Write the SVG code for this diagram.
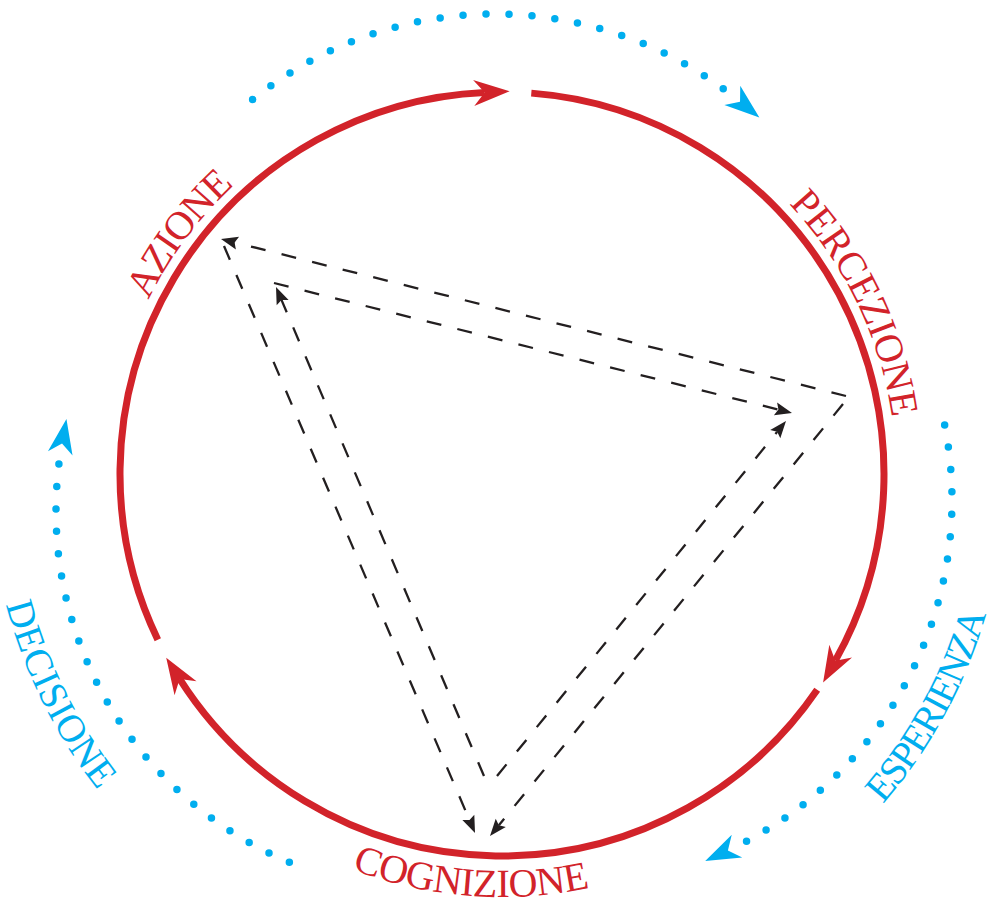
<svg xmlns="http://www.w3.org/2000/svg" width="1000" height="906" viewBox="0 0 1000 906">
<style>
.red{fill:none;stroke:#d2232a;stroke-width:7;stroke-linecap:butt}
.dots{fill:none;stroke:#00aeef;stroke-width:7.5;stroke-linecap:round}
.dash{fill:none;stroke:#231f20;stroke-width:2.3;stroke-dasharray:15 16.5}
.lbl{font-family:"Liberation Serif","Times New Roman",serif;font-size:40px}
.lr{fill:#d2232a}
.lb{fill:#00aeef;font-size:39px}
</style>
<defs>
<marker id="mr" markerUnits="userSpaceOnUse" orient="auto" refX="0" refY="0" markerWidth="40" markerHeight="30" overflow="visible">
<path d="M0,0 L-11,-13 L25,0 L-11,13 Z" fill="#d2232a"/>
</marker>
<marker id="mb" markerUnits="userSpaceOnUse" orient="auto" refX="0" refY="0" markerWidth="40" markerHeight="30" overflow="visible">
<path d="M0,0 L-10,-12.5 L25,0 L-10,12.5 Z" fill="#00aeef"/>
</marker>
<marker id="mk" markerUnits="userSpaceOnUse" orient="auto" refX="0" refY="0" markerWidth="20" markerHeight="16" overflow="visible">
<path d="M0,0 L-3,-6.5 L14,0 L-3,6.5 Z" fill="#231f20"/>
</marker>
<path id="pAz" d="M110.69,428.03 A394,394 0 0 1 346.15,112.13"/>
<path id="pPe" d="M723.74,148.32 A394,394 0 0 1 894.92,503.20"/>
<path id="pCo" d="M263.02,823.02 A423,423 0 0 0 684.77,855.47"/>
<path id="pDe" d="M-9.99,441.79 A513,513 0 0 0 218.11,901.29"/>
<path id="pEs" d="M765.34,903.73 A504,504 0 0 0 1005.83,460.81"/>
</defs>
<rect width="1000" height="906" fill="#ffffff"/>
<g id="connectors">
<g id="red-cycle">
<path class="red" d="M157.79,639.66 A382,382 0 0 1 484.67,92.39" marker-end="url(#mr)"/>
<path class="red" d="M531.31,93.13 A382,382 0 0 1 835.30,660.65" marker-end="url(#mr)"/>
<path class="red" d="M817.19,689.82 A382,382 0 0 1 179.63,678.97" marker-end="url(#mr)"/>
</g>
<g id="blue-cycle">
<path class="dots" style="stroke-dasharray:0 23" d="M252.61,99.60 A386,386 0 0 1 740.04,101.75"/>
<path class="dots" style="stroke-dasharray:0 22.44" d="M289.35,862.23 A381,381 0 0 1 62.02,443.53"/>
<path class="dots" style="stroke-dasharray:0 22.44" d="M944.65,425.03 A386,386 0 0 1 727.91,850.40"/>
<path fill="none" stroke="none" d="M252.61,99.60 A386,386 0 0 1 740.04,101.75" marker-end="url(#mb)"/>
<path fill="none" stroke="none" d="M289.35,862.23 A381,381 0 0 1 62.02,443.53" marker-end="url(#mb)"/>
<path fill="none" stroke="none" d="M944.65,425.03 A386,386 0 0 1 727.91,850.40" marker-end="url(#mb)"/>
</g>
<g id="dashed-arrows">
<path class="dash" d="M846,396 L234.58,242.41" marker-end="url(#mk)"/>
<path class="dash" d="M224,246 L469.51,820.12" marker-end="url(#mk)"/>
<path class="dash" d="M843,404 L498.86,825.16" marker-end="url(#mk)"/>
<path class="dash" d="M484,776 L281.48,299.88" marker-end="url(#mk)"/>
<path class="dash" d="M274,283 L778.42,409.59" marker-end="url(#mk)"/>
<path class="dash" d="M497,776 L777.16,431.86" marker-end="url(#mk)"/>
</g>
</g>
<g id="azione"><text class="lbl lr"><textPath href="#pAz" startOffset="50%" text-anchor="middle" textLength="144" lengthAdjust="spacing">AZIONE</textPath></text></g>
<g id="percezione"><text class="lbl lr"><textPath href="#pPe" startOffset="50%" text-anchor="middle" textLength="241" lengthAdjust="spacing">PERCEZIONE</textPath></text></g>
<g id="cognizione"><text class="lbl lr"><textPath href="#pCo" startOffset="50%" text-anchor="middle" textLength="242" lengthAdjust="spacing">COGNIZIONE</textPath></text></g>
<g id="decisione"><text class="lbl lb"><textPath href="#pDe" startOffset="50%" text-anchor="middle" textLength="209" lengthAdjust="spacing">DECISIONE</textPath></text></g>
<g id="esperienza"><text class="lbl lb"><textPath href="#pEs" startOffset="50%" text-anchor="middle" textLength="218" lengthAdjust="spacing">ESPERIENZA</textPath></text></g>
</svg>
